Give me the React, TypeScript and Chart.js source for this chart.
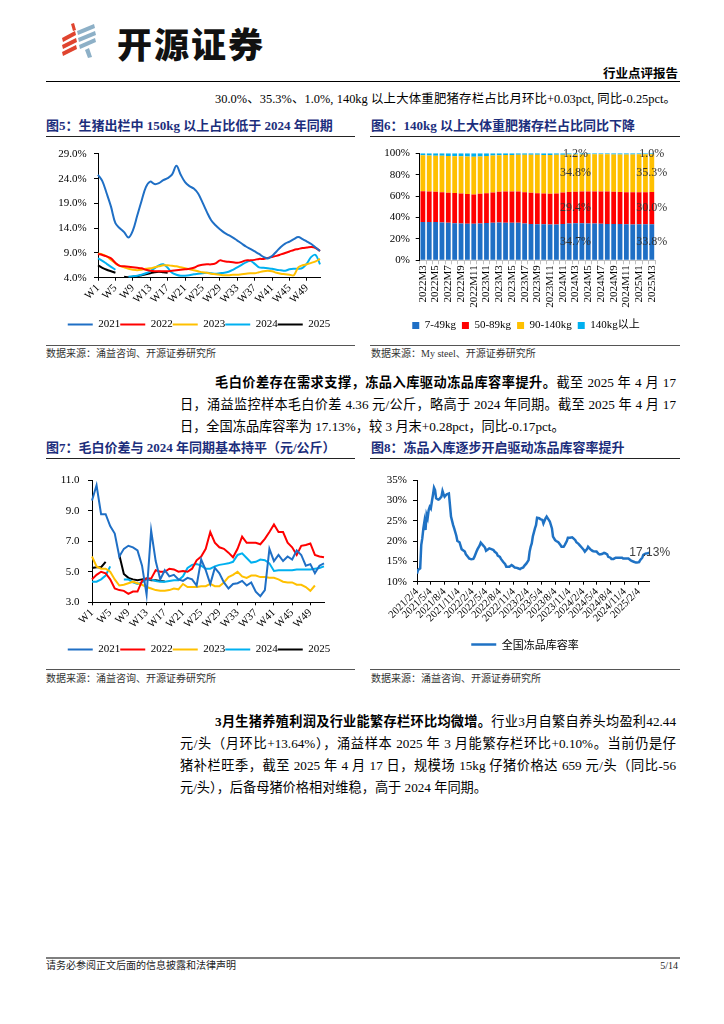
import React, { useEffect, useRef } from 'react';
import { Chart, registerables } from 'chart.js';

Chart.register(...registerables);

const SERIF = '"Liberation Serif", "Times New Roman", "Noto Sans CJK SC", serif';
const BODY = '"Liberation Serif", "Noto Sans CJK SC", serif';
const CJK = '"Noto Sans CJK SC", sans-serif';
const NAVY = '#1C2E7C';

Chart.defaults.font.family = SERIF;
Chart.defaults.color = '#000';

// ---------------- Figure 5: share of hogs > 150kg (%) ----------------
const weekLabels = Array.from({ length: 52 }, (_, i) => `W${i + 1}`);
const seriesYears = ['2021', '2022', '2023', '2024', '2025'];
const seriesColors = ['#1F6FC5', '#FF0000', '#FFC000', '#00B0F0', '#000000'];

const share2021 = [24.8, 23.5, 21.0, 18.3, 15.0, 14.0, 13.2, 12.1, 13.5, 16.5, 19.5, 22.3, 23.4, 22.9, 23.1, 23.7, 24.1, 24.8, 26.6, 24.8, 23.3, 22.5, 22.0, 21.0, 19.2, 17.3, 15.6, 14.6, 13.8, 13.1, 12.6, 12.1, 11.5, 10.9, 10.3, 9.8, 9.3, 8.8, 8.2, 7.9, 8.4, 9.3, 10.2, 10.9, 11.3, 11.8, 12.2, 11.8, 11.3, 10.8, 10.1, 9.4];
const share2022 = [8.8, 8.6, 8.3, 7.9, 7.0, 6.4, 6.3, 6.2, 6.1, 6.0, 5.9, 5.6, 5.4, 5.3, 5.3, 5.3, 5.3, 5.4, 5.5, 5.6, 5.7, 5.8, 6.0, 6.4, 6.6, 6.7, 6.7, 6.9, 7.5, 7.3, 7.2, 7.1, 7.0, 7.2, 7.5, 7.5, 7.6, 7.8, 7.8, 8.0, 8.2, 8.4, 8.7, 9.0, 9.3, 9.6, 9.8, 10.0, 10.1, 10.2, 10.0, 9.4];
const share2023 = [8.9, 8.7, 8.3, 7.6, 6.9, 6.4, 6.1, 5.8, 5.6, 5.5, 5.6, 5.8, 5.9, 6.1, 6.3, 6.5, 6.5, 6.4, 6.3, 6.1, 5.9, 5.7, 5.5, 5.3, 5.1, 5.0, 4.8, 4.7, 4.6, 4.5, 4.5, 4.6, 4.6, 4.7, 4.8, 4.9, 4.9, 5.1, 5.3, 5.4, 5.3, 5.0, 4.8, 4.7, 4.6, 4.5, 6.1, 6.5, 6.7, 7.0, 7.3, 7.8];
const share2024 = [7.9, 7.4, 6.8, 6.2, 5.6, null, null, 4.2, 4.3, 4.4, 4.6, 4.9, 5.3, 5.9, 6.5, 6.7, 6.0, 5.0, 4.6, 4.4, 4.4, 4.5, 4.7, 4.8, 4.9, 5.0, 4.9, 4.8, 4.9, 5.0, 5.2, 5.6, 6.1, 6.6, 7.1, 7.4, 6.8, 6.1, 6.0, 5.9, 5.8, 5.6, 5.5, 5.4, 5.7, 5.8, 5.8, 6.0, 6.9, 8.2, 8.6, 6.7];
const share2025 = [6.5, 6.0, 5.6, 5.3, 5.0, null, 4.2, 4.1, 4.2, 4.3, 4.5, 4.7, 4.9, 5.1, 5.2, 5.1, 5.0];

// ---------------- Figure 6: inventory structure by weight (%) ----------------
const monthLabels = [
  '2022M3', '2022M4', '2022M5', '2022M6', '2022M7', '2022M8', '2022M9', '2022M10', '2022M11', '2022M12',
  '2023M1', '2023M2', '2023M3', '2023M4', '2023M5', '2023M6', '2023M7', '2023M8', '2023M9', '2023M10', '2023M11', '2023M12',
  '2024M1', '2024M2', '2024M3', '2024M4', '2024M5', '2024M6', '2024M7', '2024M8', '2024M9', '2024M10', '2024M11', '2024M12',
  '2025M1', '2025M2', '2025M3',
];
const weightClasses = ['7-49kg', '50-89kg', '90-140kg', '140kg以上'];
const weightColors = ['#1F6FC5', '#FF0000', '#FFC000', '#00B0F0'];
const inv7to49 = [35.8, 35.8, 35.7, 35.4, 35.0, 34.6, 34.4, 34.2, 34.1, 34.3, 34.8, 35.2, 35.3, 35.1, 35.2, 35.0, 34.5, 34.0, 33.8, 33.6, 33.4, 33.5, 34.0, 34.4, 34.7, 34.6, 34.5, 34.3, 34.2, 34.0, 33.9, 33.9, 33.7, 33.5, 33.7, 33.8, 33.8];
const inv50to89 = [28.7, 28.6, 28.4, 28.3, 28.2, 28.2, 28.1, 27.8, 27.5, 27.8, 27.8, 28.2, 28.7, 29.2, 29.2, 29.2, 29.2, 29.1, 28.8, 28.8, 28.8, 29.0, 29.4, 29.4, 29.4, 29.6, 29.9, 30.1, 30.1, 30.2, 30.1, 29.9, 29.9, 30.1, 29.9, 29.9, 30.0];
const inv90to140 = [33.7, 33.6, 33.7, 34.0, 34.3, 34.5, 34.7, 35.0, 35.2, 34.9, 34.9, 34.6, 34.2, 34.1, 34.1, 34.4, 34.9, 35.5, 36.0, 36.1, 36.3, 36.1, 35.3, 35.0, 34.8, 34.7, 34.6, 34.6, 34.7, 34.8, 34.9, 35.1, 35.3, 35.3, 35.4, 35.3, 35.3];
const inv140plus = [1.8, 2.0, 2.2, 2.3, 2.5, 2.7, 2.8, 3.0, 3.2, 3.0, 2.5, 2.0, 1.8, 1.6, 1.5, 1.4, 1.4, 1.4, 1.4, 1.5, 1.5, 1.4, 1.3, 1.2, 1.2, 1.1, 1.0, 1.0, 1.0, 1.0, 1.1, 1.1, 1.1, 1.1, 1.0, 1.0, 1.0];
const labelledMonths = ['2024M3', '2025M3'];

// ---------------- Figure 7: live/carcass price spread (yuan/kg) ----------------
const spread2021 = [9.67, 10.66, 8.77, 8.77, 7.99, 7.5, 6.0, 6.5, 6.7, 6.6, 6.4, 5.4, 3.5, 7.7, 5.7, 4.5, 5.1, 4.7, 4.8, 4.5, 4.4, 4.6, 4.5, 4.1, 5.8, 5.1, 4.2, 5.25, 4.9, 4.3, 3.9, 4.2, 4.25, 4.4, 4.1, 4.3, 3.7, 3.4, 3.8, 6.5, 5.7, 6.1, 5.7, 6.0, 5.8, 6.4, 6.1, 5.4, 5.5, 4.9, 5.4, 5.55];
const spread2022 = [4.5, 4.8, 5.0, 4.9, 4.5, 3.9, 3.8, 3.75, 3.55, 3.7, 3.7, 4.4, 4.55, 4.55, 5.1, 5.0, 5.0, 5.2, 5.15, 5.0, 5.05, 5.0, 5.2, 5.75, 6.0, 6.5, 7.6, 6.9, 6.6, 6.5, 6.25, 5.95, 6.5, 7.3, 6.9, 6.9, 6.9, 6.8, 7.15, 7.6, 8.1, 7.6, 7.6, 6.9, 6.6, 6.1, 6.7, 6.75, 6.85, 6.1, 6.0, 5.95];
const spread2023 = [6.0, 5.35, 5.2, 5.2, 5.0, 4.5, 4.1, 4.15, 4.25, 4.35, 4.25, 4.15, 4.0, 3.9, 3.8, 3.75, 3.75, 3.8, 3.9, 3.85, 4.2, 4.0, 4.0, 4.0, 4.05, 4.05, 4.2, 4.05, 4.05, 4.3, 4.65, 4.8, 5.0, 4.7, 4.6, 4.75, 4.75, 4.65, 4.65, 4.6, 4.6, 4.5, 4.35, 4.3, 4.3, 4.15, 4.15, 4.0, 3.75, 4.1];
const spread2024 = [4.35, 4.35, 4.5, 4.75, 5.35, null, null, 4.5, 4.5, 4.3, 4.2, 4.3, 4.5, 4.5, 4.4, 4.35, 4.35, 4.4, 4.45, 4.45, 4.7, 5.25, 5.45, 5.5, 5.4, 5.2, 5.2, 5.35, 5.45, 5.5, 5.55, 5.65, 6.1, 6.2, 5.9, 5.6, 5.65, 5.8, 5.75, 5.55, 5.05, 5.1, 5.1, 5.1, 5.1, 5.15, 5.15, 5.15, 5.15, 5.2, 5.25, 5.35];
const spread2025 = [5.25, 5.3, 5.3, 5.65, null, null, 6.1, 4.85, 4.6, 4.5, 4.45, 4.5, 4.55, 4.45, 4.45, 4.4, 4.36];

// ---------------- Figure 8: national frozen-product storage rate (%) ----------------
const storageStart = '2021/2/4';
const storageTickDates = [
  '2021/2/4', '2021/5/4', '2021/8/4', '2021/11/4', '2022/2/4', '2022/5/4', '2022/8/4', '2022/11/4',
  '2023/2/4', '2023/5/4', '2023/8/4', '2023/11/4', '2024/2/4', '2024/5/4', '2024/8/4', '2024/11/4', '2025/2/4',
];
const storageWeeks = [
  0, 1, 3, 4, 5, 6, 7, 8, 9, 10,
  11, 12, 13, 14, 15, 16, 17, 18, 20, 21,
  23, 24, 25, 26, 28, 30, 31, 32, 34, 35,
  37, 38, 40, 42, 43, 45, 46, 48, 49, 51,
  53, 54, 56, 57, 59, 60, 62, 64, 65, 67,
  68, 70, 72, 73, 75, 76, 78, 79, 81, 83,
  84, 86, 87, 89, 90, 92, 94, 95, 97, 98,
  100, 101, 103, 105, 106, 107, 108, 109, 111, 112,
  113, 115, 116, 118, 119, 121, 122, 124, 125, 127,
  128, 130, 131, 133, 135, 136, 138, 139, 141, 142,
  144, 146, 147, 149, 150, 152, 153, 155, 157, 158,
  160, 161, 163, 165, 166, 168, 169, 171, 172, 174,
  176, 177, 179, 180, 182, 183, 185, 187, 188, 190,
  191, 193, 194, 196, 198, 199, 201, 202, 204, 206,
  207, 209, 210, 212, 213, 215, 217, 219,
];
const storageRate = [
  12.0, 12.9, 13.3, 19.0, 20.7, 23.1, 24.8, 22.7, 26.4, 25.6,
  27.6, 28.4, 28.0, 29.7, 31.3, 33.1, 32.5, 30.5, 30.2, 30.3,
  30.9, 32.3, 31.5, 30.9, 31.5, 31.7, 28.9, 26.0, 23.9, 23.1,
  21.3, 20.0, 19.7, 18.0, 17.8, 17.4, 16.7, 16.1, 15.7, 15.5,
  15.6, 16.1, 17.4, 18.0, 18.9, 19.6, 19.0, 18.4, 17.6, 18.0,
  18.2, 18.0, 17.8, 17.4, 17.0, 16.4, 16.1, 15.6, 14.9, 14.3,
  13.7, 13.7, 13.7, 14.1, 13.9, 13.5, 13.4, 13.3, 13.1, 13.3,
  13.5, 13.9, 14.5, 15.3, 17.4, 18.6, 19.4, 21.1, 23.1, 23.9,
  25.7, 25.6, 25.4, 25.2, 24.3, 25.6, 26.0, 25.2, 24.8, 23.1,
  21.1, 20.2, 20.0, 19.7, 19.0, 18.6, 18.6, 19.0, 20.0, 20.8,
  20.8, 20.9, 20.7, 20.2, 19.7, 19.3, 19.0, 18.4, 17.8, 17.4,
  18.0, 18.6, 18.0, 17.6, 17.5, 17.4, 17.4, 16.8, 16.7, 16.8,
  17.1, 17.0, 16.7, 16.1, 15.9, 15.6, 15.6, 15.9, 15.9, 15.9,
  15.9, 15.9, 15.7, 15.7, 15.7, 15.7, 15.3, 15.1, 14.9, 14.7,
  14.7, 14.8, 15.3, 15.9, 16.6, 16.9, 17.0, 17.13,
];
const storageSeriesName = '全国冻品库容率';

// ---------------- helpers ----------------
function parseDate(s) {
  const [y, m, d] = s.split('/').map(Number);
  return Date.UTC(y, m - 1, d);
}
function weeksSinceStart(s) {
  return (parseDate(s) - parseDate(storageStart)) / (7 * 86400000);
}

function valueAxis(min, max, step, fmt, width, pad) {
  return {
    min,
    max,
    ticks: { stepSize: step, padding: pad, font: { family: SERIF, size: 11 }, color: '#000', callback: (v) => fmt(Number(v)) },
    grid: { drawOnChartArea: false, drawTicks: true, tickLength: 4, color: '#000' },
    border: { display: true, color: '#000', width: 1 },
    afterFit: (s) => { s.width = width; },
  };
}

function weekAxis(height, padRight) {
  return {
    type: 'category',
    ticks: {
      autoSkip: false, minRotation: 45, maxRotation: 45, padding: 1,
      font: { family: SERIF, size: 11 }, color: '#000',
      callback: (v, i) => (i % 4 === 0 ? weekLabels[i] : null),
    },
    grid: { drawOnChartArea: false, drawTicks: true, tickLength: 3, color: '#000' },
    border: { display: true, color: '#000', width: 1 },
    afterFit: (s) => { s.height = height; s.paddingRight = padRight; },
  };
}

function lineLegend(family) {
  return {
    position: 'bottom',
    labels: {
      usePointStyle: true, pointStyle: 'line', pointStyleWidth: 25, padding: 0,
      font: { family, size: 11 }, color: '#000',
    },
  };
}

function yearDatasets(arrays, tension) {
  return arrays.map((d, i) => ({
    label: seriesYears[i],
    data: d,
    borderColor: seriesColors[i],
    backgroundColor: seriesColors[i],
    borderWidth: 2,
    pointRadius: 0,
    tension,
    spanGaps: false,
  }));
}

const fig5Config = () => ({
  type: 'line',
  data: { labels: weekLabels, datasets: yearDatasets([share2021, share2022, share2023, share2024, share2025], 0.35) },
  options: {
    responsive: false, animation: false, devicePixelRatio: 1,
    layout: { padding: { left: 0, right: 4, top: 12.7, bottom: 0 } },
    plugins: { legend: lineLegend(SERIF), tooltip: { enabled: false } },
    scales: {
      x: weekAxis(41.3, 36),
      y: valueAxis(4, 29, 5, (v) => v.toFixed(1) + '%', 52, 7.3),
    },
  },
});

const fig6LabelPlugin = {
  id: 'fig6Labels',
  afterDatasetsDraw(chart) {
    const ctx = chart.ctx;
    ctx.save();
    ctx.font = `12px ${SERIF}`;
    ctx.fillStyle = '#333';
    ctx.textAlign = 'center';
    ctx.textBaseline = 'middle';
    chart.data.datasets.forEach((ds, di) => {
      const meta = chart.getDatasetMeta(di);
      labelledMonths.forEach((m) => {
        const idx = monthLabels.indexOf(m);
        const el = meta.data[idx];
        if (!el) return;
        const c = el.getCenterPoint();
        ctx.fillText(`${Number(ds.data[idx]).toFixed(1)}%`, c.x, c.y);
      });
    });
    ctx.restore();
  },
};

const fig6Config = () => ({
  type: 'bar',
  data: {
    labels: monthLabels,
    datasets: [inv7to49, inv50to89, inv90to140, inv140plus].map((d, i) => ({
      label: weightClasses[i],
      data: d,
      backgroundColor: weightColors[i],
      borderWidth: 0,
      barPercentage: 0.75,
      categoryPercentage: 1,
    })),
  },
  options: {
    responsive: false, animation: false, devicePixelRatio: 1,
    layout: { padding: { left: 2, right: 0, top: 10.3, bottom: 0 } },
    plugins: {
      legend: {
        position: 'bottom',
        labels: { boxWidth: 7, boxHeight: 7, padding: 6, font: { family: SERIF, size: 11 }, color: '#000' },
      },
      tooltip: { enabled: false },
    },
    scales: {
      x: {
        stacked: true,
        ticks: {
          autoSkip: false, minRotation: 90, maxRotation: 90, padding: 1,
          font: { family: SERIF, size: 11 }, color: '#000',
          callback: (v, i) => (i % 2 === 0 ? monthLabels[i] : ''),
        },
        grid: { drawOnChartArea: false, tickLength: 4, color: '#BFBFBF' },
        border: { display: true, color: '#BFBFBF', width: 1 },
        afterFit: (s) => { s.height = 53.7; s.paddingRight = 25; },
      },
      y: { stacked: true, ...valueAxis(0, 100, 10, (v) => v + '%', 47.7, 5.7) },
    },
  },
  plugins: [fig6LabelPlugin],
});

const fig7Config = () => ({
  type: 'line',
  data: { labels: weekLabels, datasets: yearDatasets([spread2021, spread2022, spread2023, spread2024, spread2025], 0) },
  options: {
    responsive: false, animation: false, devicePixelRatio: 1,
    layout: { padding: { left: 0, right: 4, top: 10.7, bottom: 0 } },
    plugins: { legend: lineLegend(SERIF), tooltip: { enabled: false } },
    scales: {
      x: weekAxis(41.7, 32),
      y: valueAxis(3, 11, 2, (v) => v.toFixed(1), 46, 8.5),
    },
  },
});

const fig8LabelPlugin = {
  id: 'fig8Label',
  afterDatasetsDraw(chart) {
    const meta = chart.getDatasetMeta(0);
    const pt = meta.data[meta.data.length - 1];
    if (!pt) return;
    const ctx = chart.ctx;
    ctx.save();
    ctx.font = '12px "Liberation Sans", Arial, sans-serif';
    ctx.fillStyle = '#404040';
    ctx.textAlign = 'center';
    ctx.textBaseline = 'middle';
    ctx.fillText(`${storageRate[storageRate.length - 1].toFixed(2)}%`, pt.x, pt.y);
    ctx.restore();
  },
};

const fig8Config = () => ({
  type: 'line',
  data: {
    datasets: [{
      label: storageSeriesName,
      data: storageWeeks.map((w, i) => ({ x: w, y: storageRate[i] })),
      borderColor: '#1F72C4',
      backgroundColor: '#1F72C4',
      borderWidth: 2.5,
      pointRadius: 0,
      tension: 0,
    }],
  },
  options: {
    responsive: false, animation: false, devicePixelRatio: 1,
    layout: { padding: { left: 0, right: 0, top: 20, bottom: 0 } },
    plugins: { legend: lineLegend(CJK), tooltip: { enabled: false } },
    scales: {
      x: {
        type: 'linear',
        min: storageWeeks[0],
        max: storageWeeks[storageWeeks.length - 1],
        afterBuildTicks: (s) => { s.ticks = storageTickDates.map((d) => ({ value: weeksSinceStart(d) })); },
        ticks: {
          autoSkip: false, minRotation: 45, maxRotation: 45, padding: 1,
          font: { family: SERIF, size: 10.5 }, color: '#000',
          callback: (v, i) => storageTickDates[i],
        },
        grid: { drawOnChartArea: false, tickLength: 3, color: '#000' },
        border: { display: true, color: '#000', width: 1 },
        afterFit: (s) => { s.height = 57.3; s.paddingRight = 30.3; },
      },
      y: valueAxis(10, 35, 5, (v) => v + '%', 47, 6),
    },
  },
  plugins: [fig8LabelPlugin],
});

// ---------------- components ----------------
function ChartCanvas({ left, top, width, height, build }) {
  const ref = useRef(null);
  useEffect(() => {
    if (!ref.current) return undefined;
    const chart = new Chart(ref.current, build());
    return () => chart.destroy();
  }, []);
  return (
    <div style={{ position: 'absolute', left, top, width, height }}>
      <canvas ref={ref} width={width} height={height} style={{ display: 'block', width, height }} />
    </div>
  );
}

function Txt({ x, cy, w, size, children, bold, color, family, align, justify }) {
  const lh = Math.round(size * 1.4);
  return (
    <div
      style={{
        position: 'absolute', left: x, top: cy - lh / 2, width: w, height: lh,
        lineHeight: `${lh}px`, fontSize: size, fontWeight: bold ? 700 : 400,
        color: color || '#000', fontFamily: family || BODY,
        textAlign: justify ? 'justify' : (align || 'left'),
        textAlignLast: justify ? 'justify' : (align || 'left'),
        whiteSpace: justify ? 'normal' : 'nowrap',
      }}
    >
      {children}
    </div>
  );
}

function Rule({ x, y, w, h, color }) {
  return <div style={{ position: 'absolute', left: x, top: y, width: w, height: h, background: color }} />;
}

function Logo() {
  const red = '#E0442F';
  const blue = '#8DB0C7';
  return (
    <>
      <svg width={724} height={100} style={{ position: 'absolute', left: 0, top: 0 }}>
        <polygon points="71,24 74,23 76,30 73,31" fill={red} />
        <polygon points="62,38 75,31 76,35 63,42" fill={red} />
        <polygon points="62,45 76,38 77,42 63,49" fill={red} />
        <polygon points="62,52 76,45 77,49 63,56" fill={red} />
        <polygon points="77,31 94,24 95,28 78,35" fill={blue} />
        <polygon points="78,38 95,31 96,35 79,42" fill={blue} />
        <polygon points="79,45 95,38 96,42 80,49" fill={blue} />
        <polygon points="85,50 89,48 92,57 88,58" fill={blue} />
      </svg>
      <div style={{ position: 'absolute', left: 117, top: 20, fontFamily: CJK, fontSize: 35, fontWeight: 900, letterSpacing: 2, lineHeight: '46px', color: '#111' }}>
        开源证券
      </div>
    </>
  );
}

export default function App() {
  return (
    <div style={{ position: 'absolute', left: 0, top: 0, width: 724, height: 1024, background: '#fff', overflow: 'hidden', fontFamily: BODY }}>
      <Logo />
      <Txt x={46} w={632} cy={73} size={12.5} bold align="right" family={CJK}>行业点评报告</Txt>
      <Rule x={46} y={81} w={634} h={1.3} color="#000" />
      <Txt x={215} w={461} cy={99} size={12.4} justify>30.0%、35.3%、1.0%, 140kg 以上大体重肥猪存栏占比月环比+0.03pct, 同比-0.25pct。</Txt>

      <Txt x={46} cy={126} size={13} bold color={NAVY}>图5：生猪出栏中 150kg 以上占比低于 2024 年同期</Txt>
      <Txt x={371} cy={126} size={13} bold color={NAVY}>图6：140kg 以上大体重肥猪存栏占比同比下降</Txt>
      <Rule x={46} y={136} w={309} h={1} color="#222" />
      <Rule x={370} y={136} w={310} h={1} color="#222" />

      <ChartCanvas left={46} top={140} width={310} height={200} build={fig5Config} />
      <ChartCanvas left={370} top={141} width={310} height={200} build={fig6Config} />

      <Rule x={46} y={345} w={309} h={1.2} color="#555" />
      <Rule x={370} y={345} w={310} h={1.2} color="#555" />
      <Txt x={46} cy={354} size={10} color="#333">数据来源：涌益咨询、开源证券研究所</Txt>
      <Txt x={371} cy={354} size={10} color="#333">数据来源：My steel、开源证券研究所</Txt>

      <Txt x={215} w={461} cy={383} size={13.2} justify>
        <b>毛白价差存在需求支撑，冻品入库驱动冻品库容率提升。</b>截至 2025 年 4 月 17
      </Txt>
      <Txt x={180} w={496} cy={405} size={13.2} justify>日，涌益监控样本毛白价差 4.36 元/公斤，略高于 2024 年同期。截至 2025 年 4 月 17</Txt>
      <Txt x={180} cy={427} size={13.2}>日，全国冻品库容率为 17.13%，较 3 月末+0.28pct，同比-0.17pct。</Txt>

      <Txt x={46} cy={448} size={13} bold color={NAVY}>图7：毛白价差与 2024 年同期基本持平（元/公斤）</Txt>
      <Txt x={371} cy={448} size={13} bold color={NAVY}>图8：冻品入库逐步开启驱动冻品库容率提升</Txt>
      <Rule x={46} y={458} w={309} h={1} color="#222" />
      <Rule x={370} y={458} w={310} h={1} color="#222" />

      <ChartCanvas left={46} top={465} width={310} height={200} build={fig7Config} />
      <ChartCanvas left={370} top={460} width={310} height={200} build={fig8Config} />

      <Rule x={46} y={669} w={309} h={1.2} color="#555" />
      <Rule x={370} y={669} w={310} h={1.2} color="#555" />
      <Txt x={46} cy={679} size={10} color="#333">数据来源：涌益咨询、开源证券研究所</Txt>
      <Txt x={371} cy={679} size={10} color="#333">数据来源：涌益咨询、开源证券研究所</Txt>

      <Txt x={215} w={461} cy={722} size={13.2} justify>
        <b>3月生猪养殖利润及行业能繁存栏环比均微增。</b>行业3月自繁自养头均盈利42.44
      </Txt>
      <Txt x={180} w={496} cy={744} size={13.2} justify>元/头（月环比+13.64%），涌益样本 2025 年 3 月能繁存栏环比+0.10%。当前仍是仔</Txt>
      <Txt x={180} w={496} cy={766} size={13.2} justify>猪补栏旺季，截至 2025 年 4 月 17 日，规模场 15kg 仔猪价格达 659 元/头（同比-56</Txt>
      <Txt x={180} cy={788} size={13.2}>元/头），后备母猪价格相对维稳，高于 2024 年同期。</Txt>

      <Rule x={46} y={957} w={634} h={1.5} color="#7F7F7F" />
      <Txt x={46} cy={966} size={10} color="#222">请务必参阅正文后面的信息披露和法律声明</Txt>
      <Txt x={46} w={632} cy={966} size={10} align="right" color="#222">5/14</Txt>
    </div>
  );
}
